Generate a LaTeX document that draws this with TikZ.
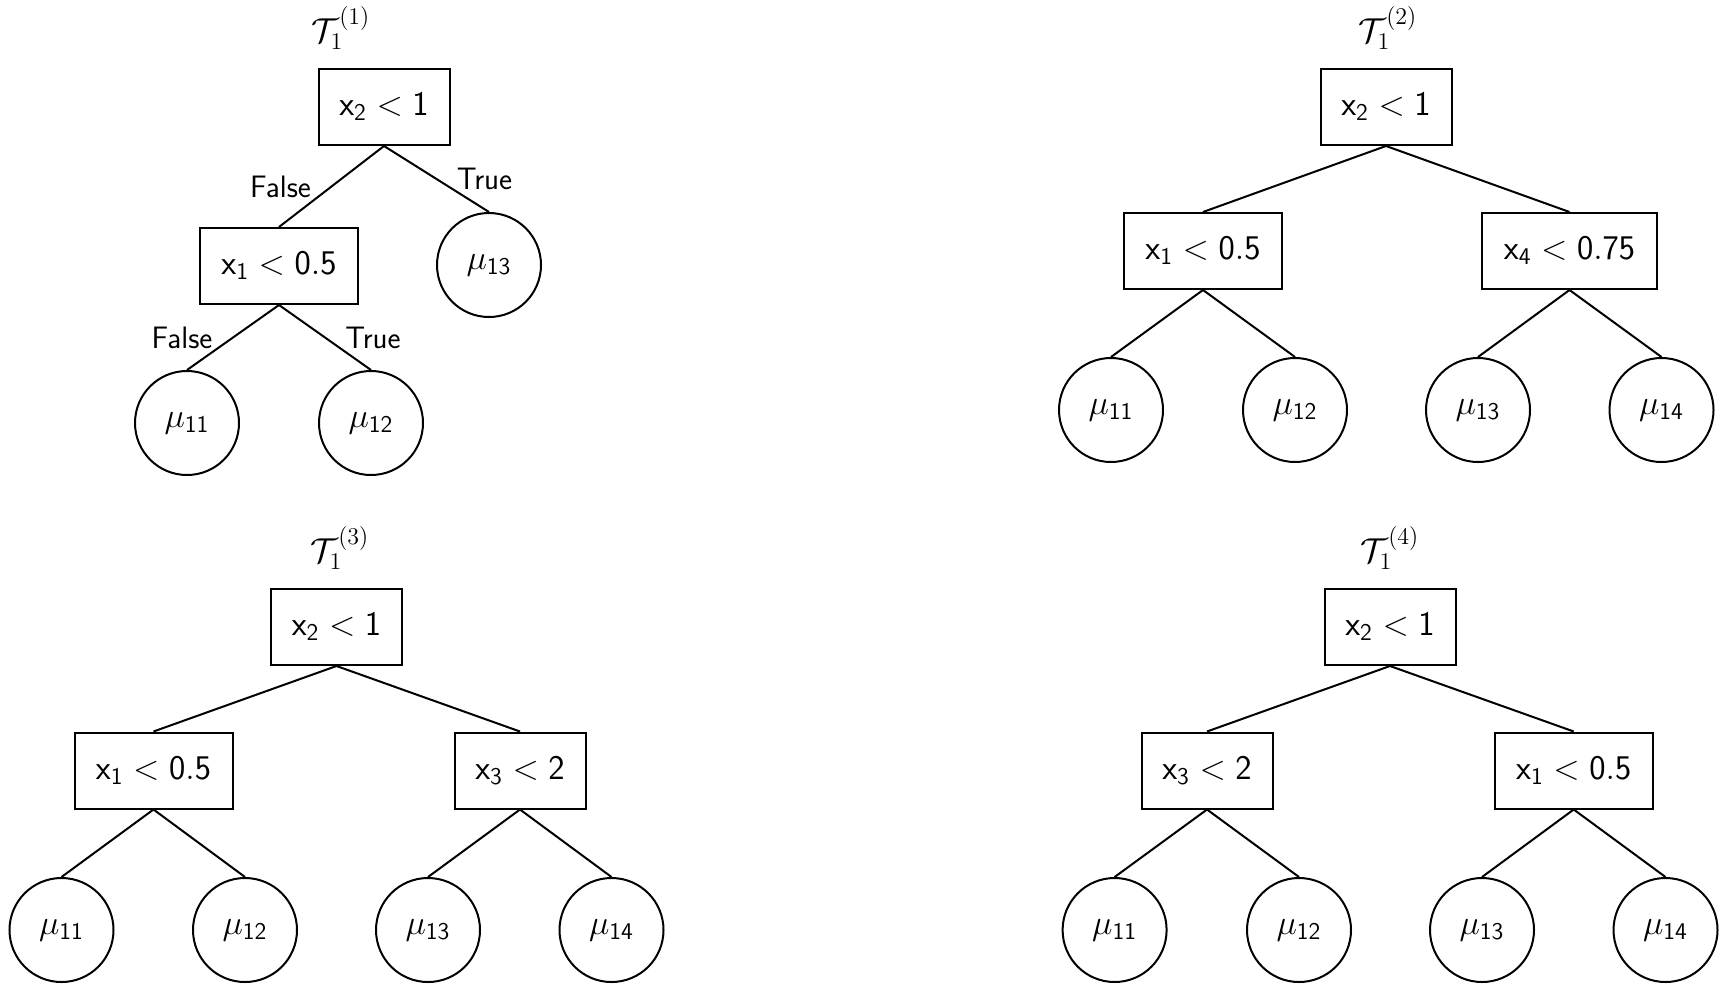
\documentclass[tikz,border=0pt]{standalone}
\begin{document}
\begin{tikzpicture}[x=0.5pt,y=-0.5pt,line width=1pt,
  box/.style={draw, rectangle, minimum height=38pt, inner sep=0pt, font=\fontsize{17.5}{20}\selectfont},
  leaf/.style={draw, circle, minimum size=52pt, inner sep=0pt, font=\fontsize{17.5}{20}\selectfont},
  lab/.style={font=\fontsize{15.5}{18}\selectfont\sffamily},
  ttl/.style={font=\fontsize{16.5}{19}\selectfont}]
\useasboundingbox (0,0) rectangle (1722,985);
% ---------- Tree 1 ----------
\node[ttl] (t1) at (341,28) {$\mathcal{T}_1^{(1)}$};
\node[box, minimum width=65.5pt] (a1) at (384,107) {$\mathsf{x}_{\mathsf{2}} < \mathsf{1}$};
\node[box, minimum width=79pt] (a2) at (279,266) {$\mathsf{x}_{\mathsf{1}} < \mathsf{0.5}$};
\node[leaf] (a13) at (489,265) {$\mu_{\mathsf{13}}$};
\node[leaf] (a11) at (187,423) {$\mu_{\mathsf{11}}$};
\node[leaf] (a12) at (371,423) {$\mu_{\mathsf{12}}$};
\draw (a1.south) -- node[lab, xshift=-25.5pt] (l1) {False} (a2.north);
\draw (a1.south) -- node[lab, xshift=24pt] (l2) {True} (a13.north);
\draw (a2.south) -- node[lab, xshift=-25.5pt] (l3) {False} (a11.north);
\draw (a2.south) -- node[lab, xshift=24pt] (l4) {True} (a12.north);
% ---------- Tree 2 ----------
\node[ttl] (t2) at (1388,28) {$\mathcal{T}_1^{(2)}$};
\node[box, minimum width=65.5pt] (b1) at (1386,107) {$\mathsf{x}_{\mathsf{2}} < \mathsf{1}$};
\node[box, minimum width=79pt] (b2) at (1203,251) {$\mathsf{x}_{\mathsf{1}} < \mathsf{0.5}$};
\node[box, minimum width=87.5pt] (b3) at (1569.5,251) {$\mathsf{x}_{\mathsf{4}} < \mathsf{0.75}$};
\node[leaf] (b11) at (1111,410) {$\mu_{\mathsf{11}}$};
\node[leaf] (b12) at (1295,410) {$\mu_{\mathsf{12}}$};
\node[leaf] (b13) at (1478,410) {$\mu_{\mathsf{13}}$};
\node[leaf] (b14) at (1661.5,410) {$\mu_{\mathsf{14}}$};
\draw (b1.south) -- (b2.north);
\draw (b1.south) -- (b3.north);
\draw (b2.south) -- (b11.north);
\draw (b2.south) -- (b12.north);
\draw (b3.south) -- (b13.north);
\draw (b3.south) -- (b14.north);
% ---------- Tree 3 ----------
\node[ttl] (t3) at (340,548) {$\mathcal{T}_1^{(3)}$};
\node[box, minimum width=65.5pt] (c1) at (336.5,627) {$\mathsf{x}_{\mathsf{2}} < \mathsf{1}$};
\node[box, minimum width=79pt] (c2) at (153.5,770.5) {$\mathsf{x}_{\mathsf{1}} < \mathsf{0.5}$};
\node[box, minimum width=65.5pt] (c3) at (520,770.5) {$\mathsf{x}_{\mathsf{3}} < \mathsf{2}$};
\node[leaf] (c11) at (61.5,930) {$\mu_{\mathsf{11}}$};
\node[leaf] (c12) at (245,930) {$\mu_{\mathsf{12}}$};
\node[leaf] (c13) at (428,930) {$\mu_{\mathsf{13}}$};
\node[leaf] (c14) at (611.5,930) {$\mu_{\mathsf{14}}$};
\draw (c1.south) -- (c2.north);
\draw (c1.south) -- (c3.north);
\draw (c2.south) -- (c11.north);
\draw (c2.south) -- (c12.north);
\draw (c3.south) -- (c13.north);
\draw (c3.south) -- (c14.north);
% ---------- Tree 4 ----------
\node[ttl] (t4) at (1390,548) {$\mathcal{T}_1^{(4)}$};
\node[box, minimum width=65.5pt] (d1) at (1390,627) {$\mathsf{x}_{\mathsf{2}} < \mathsf{1}$};
\node[box, minimum width=65.5pt] (d2) at (1207,770.5) {$\mathsf{x}_{\mathsf{3}} < \mathsf{2}$};
\node[box, minimum width=79pt] (d3) at (1573.7,770.5) {$\mathsf{x}_{\mathsf{1}} < \mathsf{0.5}$};
\node[leaf] (d11) at (1114.6,930) {$\mu_{\mathsf{11}}$};
\node[leaf] (d12) at (1299,930) {$\mu_{\mathsf{12}}$};
\node[leaf] (d13) at (1482,930) {$\mu_{\mathsf{13}}$};
\node[leaf] (d14) at (1665.5,930) {$\mu_{\mathsf{14}}$};
\draw (d1.south) -- (d2.north);
\draw (d1.south) -- (d3.north);
\draw (d2.south) -- (d11.north);
\draw (d2.south) -- (d12.north);
\draw (d3.south) -- (d13.north);
\draw (d3.south) -- (d14.north);
\end{tikzpicture}
\end{document}
